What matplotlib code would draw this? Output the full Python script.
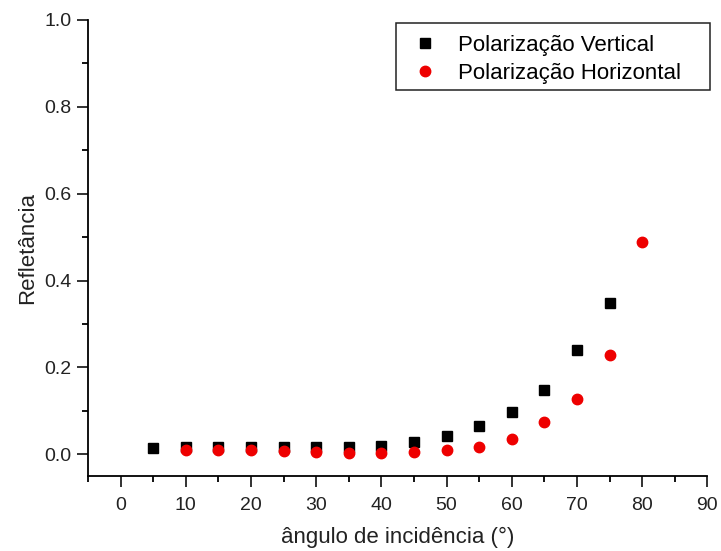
import matplotlib
matplotlib.use("Agg")
from matplotlib import pyplot as plt
from matplotlib.patches import Rectangle
from matplotlib.ticker import MultipleLocator

plt.rcParams['font.family'] = ['Liberation Sans', 'DejaVu Sans']

angle_v = [5, 10, 15, 20, 25, 30, 35, 40, 45, 50, 55, 60, 65, 70, 75]
refl_v = [0.015, 0.018, 0.017, 0.016, 0.016, 0.016, 0.018, 0.019, 0.028, 0.042,
          0.065, 0.097, 0.149, 0.240, 0.348]

angle_h = [10, 15, 20, 25, 30, 35, 40, 45, 50, 55, 60, 65, 70, 75, 80]
refl_h = [0.011, 0.010, 0.009, 0.007, 0.006, 0.004, 0.004, 0.005, 0.009, 0.018,
          0.035, 0.075, 0.127, 0.229, 0.488]

fig = plt.figure(figsize=(7.21, 5.51), dpi=100)
ax = fig.add_axes([0.122, 0.136, 0.859, 0.828])

ax.plot(angle_v, refl_v, 's', color='black', markersize=6.5, label='Polarização Vertical')
ax.plot(angle_h, refl_h, 'o', color='#ee0000', markersize=7.5, label='Polarização Horizontal')

ax.set_xlim(-5, 90)
ax.set_ylim(-0.05, 1.0)
ax.xaxis.set_major_locator(MultipleLocator(10))
ax.xaxis.set_minor_locator(MultipleLocator(5))
ax.yaxis.set_minor_locator(MultipleLocator(0.1))
ax.set_yticks([0.0, 0.2, 0.4, 0.6, 0.8, 1.0])
ax.set_yticklabels(['0.0', '0.2', '0.4', '0.6', '0.8', '1.0'])

for side in ['top', 'right']:
    ax.spines[side].set_visible(False)
for side in ['left', 'bottom']:
    ax.spines[side].set_linewidth(1.3)

ax.tick_params(which='major', length=8, width=1.3, labelsize=14, colors='#222222')
ax.tick_params(which='minor', length=4.5, width=1.3)
ax.tick_params(axis='x', pad=7)
ax.tick_params(axis='y', pad=4)

ax.set_xlabel('ângulo de incidência (°)', fontsize=16, labelpad=9, color='#222222')
ax.set_ylabel('Refletância', fontsize=16, labelpad=4, color='#222222')

# legend box is wider than the content, so draw the frame separately
leg_x0, leg_top, leg_w, leg_h = 396 / 721, 1 - 23 / 551, 314 / 721, 67 / 551
leg = ax.legend(loc='upper left', bbox_to_anchor=(leg_x0, leg_top),
                bbox_transform=fig.transFigure, borderaxespad=0, frameon=False,
                fontsize=16, handlelength=1.55, handletextpad=0.68,
                borderpad=0.55, labelspacing=0.3)
fig.add_artist(Rectangle((leg_x0, leg_top - leg_h), leg_w, leg_h,
                         transform=fig.transFigure, fill=False,
                         edgecolor='#222222', linewidth=1.1))

fig.savefig('out.png', dpi=100)
